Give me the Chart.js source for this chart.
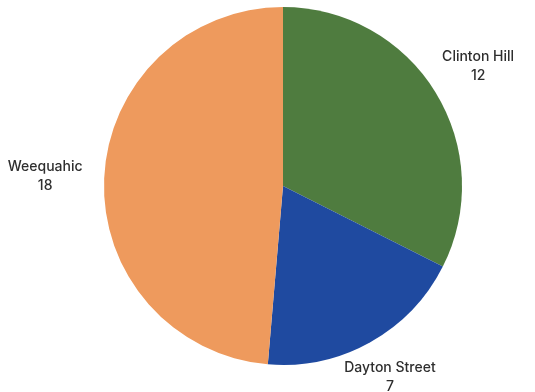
<!DOCTYPE html>
<html>
<head>
<meta charset="utf-8">
<script src="https://cdn.jsdelivr.net/npm/chart.js@4/dist/chart.umd.min.js"></script>
<style>
  html, body { margin: 0; padding: 0; background: #ffffff; }
  #wrap { width: 535px; height: 392px; }
</style>
</head>
<body>
<div id="wrap"><canvas id="chart" width="535" height="392"></canvas></div>
<script>
const neighborhoods = ['Clinton Hill', 'Dayton Street', 'Weequahic'];
const counts = [12, 7, 18];
const sliceColors = ['#4f7c3f', '#1f4aa0', '#ee9a5d'];

// Outside labels: name on the first line, count below it
const outsideLabels = {
  id: 'outsideLabels',
  afterDatasetsDraw(chart, args, opts) {
    const ctx = chart.ctx;
    const meta = chart.getDatasetMeta(0);
    ctx.save();
    ctx.font = opts.font;
    ctx.fillStyle = opts.color;
    ctx.textAlign = 'center';
    ctx.textBaseline = 'middle';
    meta.data.forEach((arc, i) => {
      const p = arc.getProps(['x', 'y', 'startAngle', 'endAngle', 'outerRadius'], true);
      const mid = (p.startAngle + p.endAngle) / 2;
      const r = p.outerRadius * opts.distance[i];
      const cx = p.x + Math.cos(mid) * r;
      const cy = p.y + Math.sin(mid) * r;
      ctx.fillText(neighborhoods[i], cx, cy - opts.lineHeight / 2);
      ctx.fillText(String(counts[i]), cx, cy + opts.lineHeight / 2);
    });
    ctx.restore();
  }
};

new Chart(document.getElementById('chart'), {
  type: 'pie',
  data: {
    labels: neighborhoods,
    datasets: [{
      data: counts,
      backgroundColor: sliceColors,
      borderWidth: 0
    }]
  },
  options: {
    responsive: false,
    animation: false,
    layout: { padding: { top: 7, bottom: 27, left: 103, right: 72 } },
    plugins: {
      legend: { display: false },
      tooltip: { enabled: false },
      outsideLabels: {
        font: '500 14px Inter, sans-serif',
        color: '#2e2e2e',
        lineHeight: 19,
        distance: [1.28, 1.225, 1.33]
      }
    }
  },
  plugins: [outsideLabels]
});
</script>
</body>
</html>
